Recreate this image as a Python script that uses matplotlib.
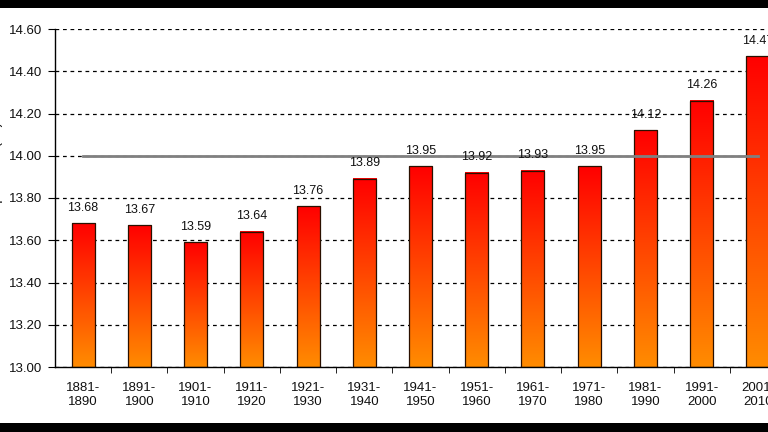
import numpy as np
import matplotlib
matplotlib.use("Agg")
import matplotlib.pyplot as plt
from matplotlib.colors import LinearSegmentedColormap
from matplotlib.patches import Rectangle

# data
periods = ["1881-\n1890", "1891-\n1900", "1901-\n1910", "1911-\n1920", "1921-\n1930",
           "1931-\n1940", "1941-\n1950", "1951-\n1960", "1961-\n1970", "1971-\n1980",
           "1981-\n1990", "1991-\n2000", "2001-\n2010"]
temps = [13.68, 13.67, 13.59, 13.64, 13.76, 13.89, 13.95, 13.92, 13.93, 13.95,
         14.12, 14.26, 14.47]
baseline = 14.00
y_ticks = [13.0, 13.2, 13.4, 13.6, 13.8, 14.0, 14.2, 14.4, 14.6]

plt.rcParams["font.family"] = ["Liberation Sans", "DejaVu Sans"]

fig = plt.figure(figsize=(7.68, 4.32), dpi=100)
W, H = 768.0, 432.0

# black bands top/bottom
fig.patches.append(Rectangle((0, 1 - 8 / H), 1, 8 / H, transform=fig.transFigure,
                             facecolor="black", edgecolor="none", zorder=10))
fig.patches.append(Rectangle((0, 0), 1, 9 / H, transform=fig.transFigure,
                             facecolor="black", edgecolor="none", zorder=10))

# axes runs past the right edge (picture is cropped)
ax = fig.add_axes([55 / W, 1 - 367 / H, 731 / W, 338 / H])

cmap = LinearSegmentedColormap.from_list("redorange", ["#ff8c00", "#ff0000"])
grad = np.linspace(0, 1, 256).reshape(-1, 1)
bw = 0.41
x = np.arange(len(temps))

for xi, v in zip(x, temps):
    ax.imshow(grad, cmap=cmap, origin="lower", aspect="auto",
              extent=[xi - bw / 2, xi + bw / 2, 13.0, v], zorder=2)
    ax.add_patch(Rectangle((xi - bw / 2, 13.0), bw, v - 13.0, facecolor="none",
                           edgecolor="#2a1000", linewidth=0.9, zorder=3))
    ax.annotate(f"{v:.2f}", (xi, v), xytext=(0, 7), textcoords="offset points",
                ha="center", va="bottom", fontsize=9, color="#111111", zorder=5)

ax.plot([x[0], x[-1]], [baseline, baseline], color="#808080", linewidth=2.0, zorder=4)

ax.set_xlim(-0.5, len(temps) - 0.5)
ax.set_ylim(13.0, 14.6)
ax.set_yticks(y_ticks)
ax.set_yticklabels([f"{t:.2f}" for t in y_ticks], fontsize=9.5, color="#111111")
ax.set_xticks(x)
ax.set_xticklabels(periods, fontsize=9.5, color="#111111", linespacing=1.2)
ax.set_xticks(np.arange(len(temps)) + 0.5, minor=True)
ax.tick_params(axis="x", which="major", length=0, pad=11)
ax.tick_params(axis="x", which="minor", length=4, direction="out")
ax.tick_params(axis="y", length=5, direction="out", pad=4)

ax.yaxis.grid(True, color="black", linestyle=(0, (3, 3)), linewidth=0.9)
ax.set_axisbelow(True)
for s in ["top", "right"]:
    ax.spines[s].set_visible(False)
ax.spines["left"].set_linewidth(1.0)
ax.spines["bottom"].set_linewidth(1.0)

fig.text(3 / W, 1 - 175 / H, "Temperature (°C)", rotation=90, ha="right",
         va="center", fontsize=10, color="#111111")

fig.savefig("out.png", dpi=100)
